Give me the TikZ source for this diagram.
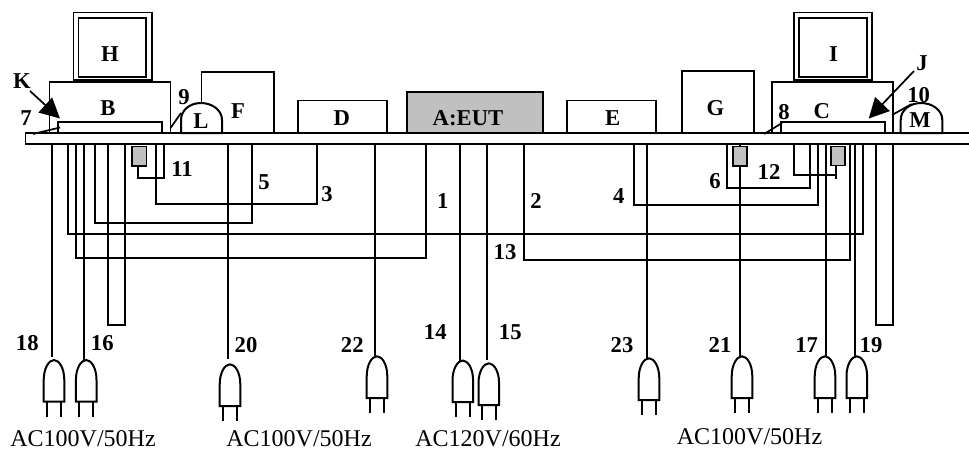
\documentclass[tikz,border=0pt]{standalone}
\usepackage{fontspec}
\setmainfont{Liberation Serif}
\usetikzlibrary{arrows.meta,positioning,calc}
\definecolor{EutGray}{RGB}{192,192,192}
\tikzset{
  unit/.style={draw=black,line width=1.3pt},
  cable/.style={draw=black,line width=1.3pt},
  tag/.style={font=\bfseries\fontsize{17}{20}\selectfont,inner sep=0pt},
  supply/.style={font=\fontsize{18}{20}\selectfont,inner sep=0pt},
  bigarrow/.style={-{Triangle[length=15pt,width=15pt]},line width=1.3pt},
  plug/.pic={
    \draw[line width=1.5pt] (-10.3,41.7) -- (-10.3,20)
      .. controls (-10.3,8) and (-5,0) .. (0,0)
      .. controls (5,0) and (10.3,8) .. (10.3,20)
      -- (10.3,41.7) -- cycle;
    \draw[line width=1.3pt] (-6.9,41.7) -- (-6.9,56.5) (6.9,41.7) -- (6.9,56.5);
  }
}
\begin{document}
\begin{tikzpicture}[x=0.75pt,y=-0.75pt]
  \useasboundingbox (0,0) rectangle (969,451);
  %% Table
  \draw[unit] (969,133) -- (25.5,133) -- (25.5,144) -- (969,144);
  %% Monitors and computers
  \draw[unit] (73.5,12.5) rectangle (152,80);
  \draw[unit] (78.5,18) rectangle (146,77);
  \draw[unit] (49.5,133) -- (49.5,82) -- (170.5,82) -- (170.5,133);
  \draw[unit] (58,122) rectangle (162,133);
  \draw[unit] (793.7,12.5) rectangle (872.3,80);
  \draw[unit] (798.7,18) rectangle (866.7,77);
  \draw[unit] (772,133) -- (772,82) -- (893.3,82) -- (893.3,133);
  \draw[unit] (781,122) rectangle (885,133);
  %% Units on the table
  \draw[unit] (201.5,103) -- (201.5,72) -- (274,72) -- (274,133);
  \draw[unit] (297.7,133) -- (297.7,100.5) -- (386.7,100.5) -- (386.7,133);
  \draw[unit,fill=EutGray] (407.3,92.3) rectangle (543.3,133);
  \draw[unit] (567.3,133) -- (567.3,100.5) -- (655.7,100.5) -- (655.7,133);
  \draw[unit] (681.7,133) -- (681.7,71) -- (754.3,71) -- (754.3,133);
  %% Domes L and M
  \draw[line width=1.5pt] (181,133) -- (181,120)
    .. controls (181,110) and (190,103) .. (201,103)
    .. controls (212,103) and (222,110) .. (222,120) -- (222,133) -- cycle;
  \draw[line width=1.5pt] (900.7,133) -- (900.7,120)
    .. controls (900.7,110) and (910,103) .. (921,103)
    .. controls (932,103) and (942.3,110) .. (942.3,120) -- (942.3,133) -- cycle;
  %% Short leads
  \coordinate (lead7a) at (33,134);
  \coordinate (lead7b) at (60,127.5);
  \coordinate (lead8a) at (764,134);
  \coordinate (lead8b) at (782,123);
  \coordinate (lead9a) at (170.5,128);
  \coordinate (lead9b) at (181,113);
  \coordinate (lead10a) at (892,115);
  \coordinate (lead10b) at (911.7,104);
  \draw[cable] (lead7a) -- (lead7b);
  \draw[cable] (lead8a) -- (lead8b);
  \draw[cable] (lead9a) -- (lead9b);
  \draw[cable] (lead10a) -- (lead10b);
  %% Loops under the table: number/first x/depth/second x
  \foreach \n/\xa/\yd/\xb in {
      1/76.3/258.3/425.7, 2/524.3/260/850, 3/156/204/316.7,
      4/634/204.7/817.7, 5/95/223.3/252.3, 6/727/188.3/810,
      13/68/233.7/862.7}{
    \coordinate (loop\n a) at (\xa,144);
    \coordinate (loop\n b) at (\xb,144);
    \draw[cable] (loop\n a) |- (\xb,\yd) -- (loop\n b);
  }
  %% Adapter leads 11 and 12
  \coordinate (box11) at (137.7,166);
  \coordinate (tap11) at (164,144);
  \draw[cable] (box11) |- (164,178) -- (tap11);
  \coordinate (box12) at (836,165.5);
  \coordinate (tap12) at (794,144);
  \draw[cable] (tap12) |- (836,175.3);
  \draw[cable] (box12) -- (836,179);
  %% Loose cable bundles
  \draw[unit] (108.3,143.5) rectangle (125.2,325);
  \draw[unit] (876.3,143.5) rectangle (893.3,325);
  %% Power cords: number/cable x/cable end/plug x/plug top
  \foreach \n/\xa/\ye/\xp/\yp in {
      18/51.7/356.7/54/360, 16/84/360/86.2/360, 20/228/359.3/230/364.3,
      22/374.7/356.3/377/356.3, 14/460.3/360.5/462.8/360.5,
      15/486.7/360/488.8/363.3, 23/647/358.3/649/358.3,
      21/740/356.3/742/356.3, 17/825.7/356.3/825/356.3,
      19/855/356.3/856.8/356.3}{
    \coordinate (tap\n) at (\xa,144);
    \coordinate (end\n) at (\xa,\ye);
    \draw[cable] (tap\n) -- (end\n);
    \pic at (\xp,\yp) {plug};
  }
  %% Gray adapters, over the cords
  \draw[unit,fill=EutGray] (131.7,146.5) rectangle (146.5,166);
  \draw[unit,fill=EutGray] (732.7,146.5) rectangle (746.7,166);
  \draw[unit,fill=EutGray] (831,146.5) rectangle (845,165.5);
  %% Letters
  \node[tag] (H) at (110,54) {H};
  \node[tag] (I) at (833.5,54) {I};
  \node[tag] (B) at (108,108) {B};
  \node[tag] (C) at (821.7,111) {C};
  \node[tag] (F) at (238,111) {F};
  \node[tag] (G) at (715.5,108) {G};
  \node[tag] (L) at (201,121) {L};
  \node[tag] (M) at (920,120) {M};
  \node[tag] (D) at (341.7,118) {D};
  \node[tag] (E) at (612.7,118) {E};
  \node[tag] (A) at (468,118) {A:EUT};
  \node[tag] (K) at (22,81) {K};
  \node[tag] (J) at (922,63) {J};
  %% Arrows K and J
  \coordinate (tipK) at (60,118.5);
  \coordinate (tipJ) at (868.7,118.5);
  \draw[bigarrow] (K) ++(8,10) -- (tipK);
  \draw[bigarrow] (J) ++(-8,8) -- (tipJ);
  %% Cable numbers
  \foreach \n/\xa/\ya in {
      1/442.7/201, 2/536/201, 3/327/194, 4/618.7/196, 5/264/182, 6/715/181,
      7/26/118, 8/784/112, 9/184/97, 10/918.7/95, 11/182/169.5, 12/769/172,
      13/505/252, 14/435.3/332, 15/510.3/332, 16/102.3/342.7, 17/806.7/345,
      18/27.3/342.7, 19/871/345, 20/246/345, 21/720/345, 22/352.3/345,
      23/622/345}{
    \node[tag] (num\n) at (\xa,\ya) {\n};
  }
  %% Supply labels
  \node[supply] (acA) at (83,439) {AC100V/50Hz};
  \node[supply] (acB) at (299,439) {AC100V/50Hz};
  \node[supply] (acC) at (488,439) {AC120V/60Hz};
  \node[supply] (acD) at (749.5,437) {AC100V/50Hz};
\end{tikzpicture}
\end{document}
